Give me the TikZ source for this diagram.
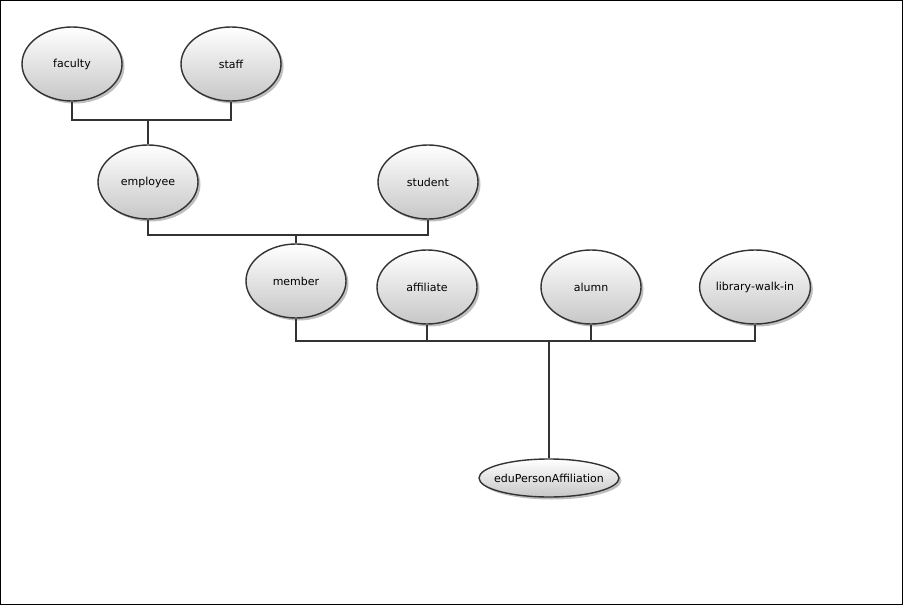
\documentclass[tikz,border=0pt]{standalone}
\usepackage{fontspec}
\setmainfont{DejaVu Sans}
\usepackage{tikz}
\usetikzlibrary{shapes.geometric,shadows}

\tikzset{
  attr/.style={shape=ellipse, draw=black!80, line width=1.4pt,
    top color=white, bottom color=black!22, inner sep=0pt,
    minimum width=100pt, minimum height=74pt,
    font=\fontsize{11}{13}\selectfont,
    drop shadow={shadow xshift=2.5pt, shadow yshift=-2.5pt, opacity=0.25, fill=black}},
  link/.style={draw=black!80, line width=1.4pt},
  trunk/.style={draw=black!80, line width=2.6pt}
}

\begin{document}
\begin{tikzpicture}[x=1pt, y=-1pt]

	\useasboundingbox (0,0) rectangle (903,605);
	\draw[line width=1pt] (0.5,0.5) rectangle (902.5,604.5);

	\node[attr] (faculty)   at (72, 64)   {faculty};
	\node[attr] (staff)     at (231, 64)  {staff};
	\node[attr] (employee)  at (148, 182) {employee};
	\node[attr] (student)   at (428, 182) {student};
	\node[attr] (member)    at (296, 281) {member};
	\node[attr] (affiliate) at (427, 287) {affiliate};
	\node[attr] (alumn)     at (591, 287) {alumn};
	\node[attr] (walkin)    at (755, 287) {library-walk-in};
	\node[attr, minimum width=140pt, minimum height=38pt, inner xsep=-18pt, inner ysep=-2pt] (epa) at (549, 478) {eduPersonAffiliation};

	\coordinate (fs) at (148, 120);
	\coordinate (es) at (296, 235);
	\coordinate (mw) at (549, 341);

	% employee
	\path[link] (faculty.south) |- (fs) -| (staff.south);
	\path[trunk] (fs) -- (employee.north);

	% member
	\path[link] (employee.south) |- (es) -| (student.south);
	\path[link] (es) -- (member.north);

	% eduPersonAffiliation
	\path[link] (member.south) |- (affiliate.south |- mw);
	\path[link] (affiliate.south) -- (affiliate.south |- mw);
	\path[line width=2pt, draw=black!80] (affiliate.south |- mw) -- (mw);
	\path[link] (mw) -| (alumn.south);
	\path[link] (mw) -| (walkin.south);
	\path[trunk] (mw) -- (epa.north);

\end{tikzpicture}
\end{document}
